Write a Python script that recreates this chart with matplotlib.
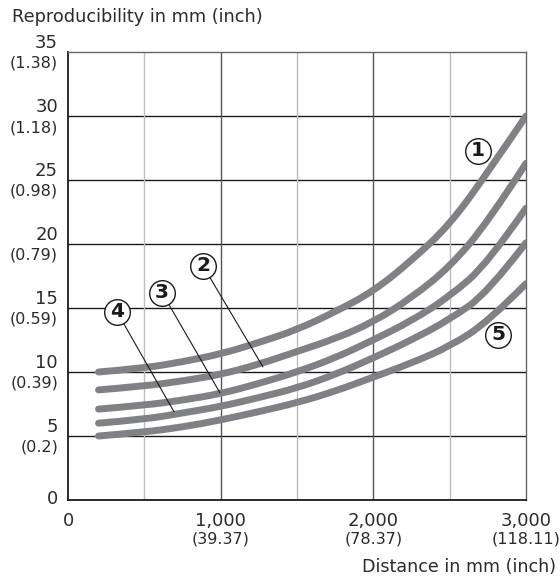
import matplotlib
matplotlib.use("Agg")
import matplotlib.pyplot as plt
from matplotlib.path import Path
from matplotlib.patches import PathPatch
from matplotlib.transforms import offset_copy

plt.rcParams['font.family'] = ['DejaVu Sans']

# ---- data ----
distance_mm = [200, 500, 750, 1000, 1250, 1500, 1750, 2000, 2250, 2500, 2750, 3000]
curve_1 = [10.0, 10.3, 10.8, 11.4, 12.3, 13.3, 14.7, 16.3, 18.7, 21.5, 25.6, 30.0]
curve_2 = [8.6, 8.9, 9.3, 9.8, 10.6, 11.6, 12.6, 13.9, 15.8, 18.2, 21.7, 26.3]
curve_3 = [7.1, 7.4, 7.8, 8.3, 9.1, 10.0, 11.1, 12.5, 14.0, 15.9, 18.5, 22.8]
curve_4 = [6.0, 6.3, 6.8, 7.3, 8.0, 8.75, 9.8, 11.1, 12.5, 14.1, 16.2, 20.1]
curve_5 = [5.0, 5.3, 5.7, 6.25, 6.9, 7.6, 8.5, 9.6, 10.7, 12.0, 13.9, 16.9]
curves = [curve_1, curve_2, curve_3, curve_4, curve_5]

y_ticks_mm = [0, 5, 10, 15, 20, 25, 30, 35]
y_ticks_inch = ["", "(0.2)", "(0.39)", "(0.59)", "(0.79)", "(0.98)", "(1.18)", "(1.38)"]
x_ticks_mm = [0, 1000, 2000, 3000]
x_tick_labels = ["0", "1,000", "2,000", "3,000"]
x_ticks_inch = ["", "(39.37)", "(78.37)", "(118.11)"]

curve_labels = ["1", "2", "3", "4", "5"]
label_pos = [(2686, 27.3), (884, 18.3), (616, 16.2), (321, 14.7), (2817, 12.9)]
leader_end = [None, (1277, 10.4), (996, 8.36), (694, 6.9), None]

# ---- figure ----
fig = plt.figure(figsize=(5.6, 5.84), dpi=100)
ax = fig.add_axes([68/560, 84/584, 458/560, 448/584])
ax.set_xlim(0, 3000)
ax.set_ylim(0, 35)

text_col = "#2b2b2b"
for y in y_ticks_mm[1:-1]:
    ax.axhline(y, color="#1a1a1a", lw=1.0, zorder=1)
for x in [500, 1500, 2500]:
    ax.axvline(x, color="#bdbdbd", lw=1.0, zorder=1)
for x in [1000, 2000]:
    ax.axvline(x, color="#555555", lw=1.0, zorder=1)

for side in ["top", "right"]:
    ax.spines[side].set_color("#666666")
    ax.spines[side].set_linewidth(1.0)
for side in ["left", "bottom"]:
    ax.spines[side].set_color("#1a1a1a")
    ax.spines[side].set_linewidth(1.3)
ax.set_xticks([])
ax.set_yticks([])


def smooth_path(xs, ys):
    """Quadratic B-spline style path through the data points (rendered by matplotlib)."""
    pts = list(zip(xs, ys))
    verts = [pts[0]]
    codes = [Path.MOVETO]
    n = len(pts)
    for i in range(1, n - 1):
        if i < n - 2:
            end = ((pts[i][0] + pts[i + 1][0]) / 2, (pts[i][1] + pts[i + 1][1]) / 2)
        else:
            end = pts[i + 1]
        verts += [pts[i], end]
        codes += [Path.CURVE3, Path.CURVE3]
    return Path(verts, codes)


for c in curves:
    patch = PathPatch(smooth_path(distance_mm, c), facecolor="none",
                      edgecolor="#808184", lw=5.0, capstyle="round",
                      joinstyle="round", zorder=3)
    ax.add_patch(patch)

# y tick labels
for v, inch in zip(y_ticks_mm, y_ticks_inch):
    if v == 0:
        t = offset_copy(ax.transData, fig=fig, x=-10, y=1, units="dots")
        ax.text(0, v, "0", transform=t, ha="right", va="center", fontsize=13,
                color=text_col, clip_on=False)
        continue
    t1 = offset_copy(ax.transData, fig=fig, x=-10, y=0, units="dots")
    ax.text(0, v, str(v), transform=t1, ha="right", va="bottom", fontsize=13,
            color=text_col, clip_on=False)
    t2 = offset_copy(ax.transData, fig=fig, x=-10, y=-4, units="dots")
    ax.text(0, v, inch, transform=t2, ha="right", va="top", fontsize=11.5,
            color=text_col, clip_on=False)

# x tick labels
for v, lab, inch in zip(x_ticks_mm, x_tick_labels, x_ticks_inch):
    t1 = offset_copy(ax.transData, fig=fig, x=0, y=-12, units="dots")
    ax.text(v, 0, lab, transform=t1, ha="center", va="top", fontsize=13,
            color=text_col, clip_on=False)
    if inch:
        t2 = offset_copy(ax.transData, fig=fig, x=0, y=-31, units="dots")
        ax.text(v, 0, inch, transform=t2, ha="center", va="top", fontsize=11.5,
                color=text_col, clip_on=False)

fig.text(12/560, 1 - 17/584, "Reproducibility in mm (inch)", ha="left", va="center",
         fontsize=12.8, color=text_col)
fig.text(556/560, 1 - 567/584, "Distance in mm (inch)", ha="right", va="center",
         fontsize=12.6, color=text_col)

for lab, pos, end in zip(curve_labels, label_pos, leader_end):
    if end is not None:
        ax.annotate("", xy=end, xytext=pos,
                    arrowprops=dict(arrowstyle="-", color="#1a1a1a", lw=0.8,
                                    shrinkA=9, shrinkB=0), zorder=4)
    ax.scatter([pos[0]], [pos[1]], s=340, marker="o", facecolor="white",
               edgecolor="#1a1a1a", linewidth=1.0, zorder=5, clip_on=False)
    ax.text(pos[0], pos[1], lab, ha="center", va="center", fontsize=14.5,
            fontweight="semibold", color="#1a1a1a", zorder=6)

fig.savefig("out.png", dpi=100)
